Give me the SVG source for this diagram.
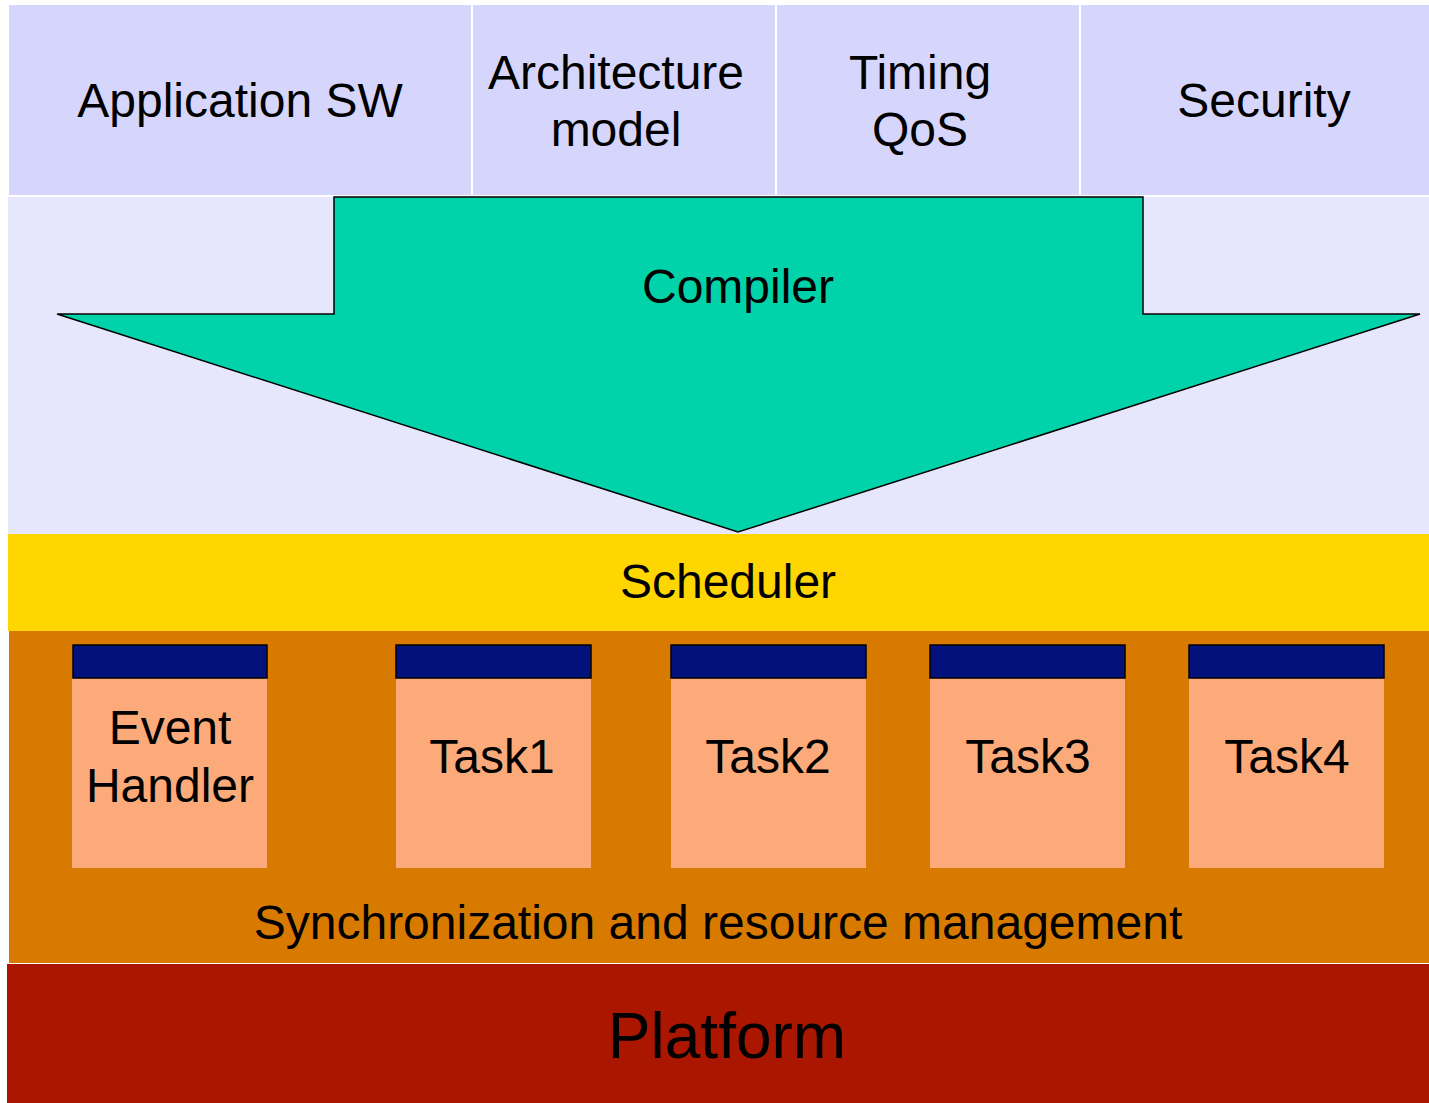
<svg xmlns="http://www.w3.org/2000/svg" width="1429" height="1103" viewBox="0 0 1429 1103">
<style>
text{font-family:"Liberation Sans",Arial,sans-serif;fill:#000;text-anchor:middle}
.t{font-size:48px}
.top{fill:#D6D6FC}
.bar{fill:#02127A;stroke:#000;stroke-width:1.5}
.body{fill:#FDAA7A}
</style>
<rect width="1429" height="1103" fill="#fff"/>
<g id="band-compiler"><rect x="8" y="197" width="1421" height="337" fill="#E6E6FC"/></g>
<g id="app-sw"><rect class="top" x="9" y="5" width="462" height="190"/><text class="t" x="240" y="117">Application SW</text></g>
<g id="arch-model"><rect class="top" x="473" y="5" width="302" height="190"/><text class="t" x="616" y="89">Architecture</text><text class="t" x="616" y="146">model</text></g>
<g id="timing-qos"><rect class="top" x="777" y="5" width="302" height="190"/><text class="t" x="920" y="89">Timing</text><text class="t" x="920" y="146">QoS</text></g>
<g id="security"><rect class="top" x="1081" y="5" width="348" height="190"/><text class="t" x="1264" y="117">Security</text></g>
<g id="compiler"><polygon points="334,197 334,314 57,314 738,532 1420,314 1143,314 1143,197" fill="#00D2AA" stroke="#000" stroke-width="1.5"/><text class="t" x="738" y="303">Compiler</text></g>
<g id="scheduler"><rect x="8" y="534" width="1421" height="97" fill="#FFD502"/><text class="t" x="728" y="598">Scheduler</text></g>
<g id="sync"><rect x="9" y="631" width="1420" height="332" fill="#D87A00"/><text class="t" x="718" y="939">Synchronization and resource management</text></g>
<g id="event-handler"><rect class="body" x="72" y="678" width="195" height="190"/><rect class="bar" x="73" y="645" width="194" height="33"/><text class="t" x="170" y="744">Event</text><text class="t" x="170" y="802">Handler</text></g>
<g id="task1"><rect class="body" x="396" y="678" width="195" height="190"/><rect class="bar" x="396" y="645" width="195" height="33"/><text class="t" x="492" y="773">Task1</text></g>
<g id="task2"><rect class="body" x="671" y="678" width="195" height="190"/><rect class="bar" x="671" y="645" width="195" height="33"/><text class="t" x="768" y="773">Task2</text></g>
<g id="task3"><rect class="body" x="930" y="678" width="195" height="190"/><rect class="bar" x="930" y="645" width="195" height="33"/><text class="t" x="1028" y="773">Task3</text></g>
<g id="task4"><rect class="body" x="1189" y="678" width="195" height="190"/><rect class="bar" x="1189" y="645" width="195" height="33"/><text class="t" x="1287" y="773">Task4</text></g>
<g id="platform"><rect x="7" y="964" width="1422" height="139" fill="#AA1600"/><text x="727" y="1058" font-size="64">Platform</text></g>
<g id="connectors"></g>
</svg>
